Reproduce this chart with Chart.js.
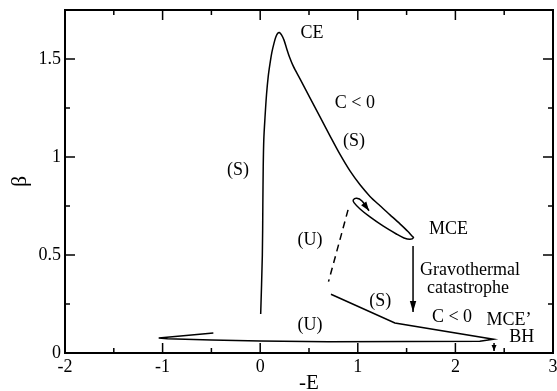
<!DOCTYPE html>
<html>
<head>
<meta charset="utf-8">
<script src="https://cdn.jsdelivr.net/npm/chart.js@4.4.1/dist/chart.umd.min.js"></script>
<style>
html, body { margin: 0; padding: 0; background: #fff; }
#wrap { width: 557px; height: 391px; }
</style>
</head>
<body>
<div id="wrap"><canvas id="c"></canvas></div>
<script>
// caloric curve beta(-E)
// upper branch: up to CE, down to MCE, then the spiral
const upperE = [0.005, 0.022, 0.027, 0.031, 0.037, 0.049, 0.065, 0.082, 0.100, 0.120, 0.141, 0.160, 0.178, 0.196,
                0.220, 0.245, 0.270, 0.300, 0.340, 0.408, 0.510, 0.613, 0.715, 0.818, 0.920, 1.023, 1.125, 1.228, 1.330, 1.432, 1.514, 1.555, 1.571,
                1.535, 1.473, 1.399, 1.258, 1.125, 1.023, 0.961, 0.954, 0.989, 1.040, 1.115];
const upperBeta = [0.199, 0.500, 0.750, 0.950, 1.090, 1.200, 1.320, 1.410, 1.475, 1.535, 1.580, 1.612, 1.630, 1.635,
                   1.622, 1.595, 1.555, 1.510, 1.462, 1.399, 1.302, 1.205, 1.108, 1.013, 0.929, 0.858, 0.799, 0.751, 0.705, 0.659, 0.620, 0.597, 0.589,
                   0.580, 0.587, 0.606, 0.648, 0.694, 0.735, 0.767, 0.781, 0.789, 0.777, 0.726];
const unstableE = [0.90, 0.70];
const unstableBeta = [0.73, 0.364];
// lower branch: (S) part, the long bottom line and the left tip
const lowerE = [0.725, 1.38, 2.39, 2.25, 0.70, 0.00, -0.50, -0.95, -1.04, -0.48];
const lowerBeta = [0.30, 0.153, 0.070, 0.060, 0.058, 0.061, 0.066, 0.073, 0.077, 0.102];
const gravArrowE = [1.566, 1.566];
const gravArrowBeta = [0.546, 0.209];
const bhArrowE = [2.396, 2.396];
const bhArrowBeta = [0.051, 0.010];

const xTicks = [-2, -1, 0, 1, 2, 3];
const xMinorTicks = [-1.5, -0.5, 0.5, 1.5, 2.5];
const yTicks = [0, 0.5, 1, 1.5];
const yMinorTicks = [0.25, 0.75, 1.25];

// text on the plot, placed in data coordinates
const notes = [
    { text: 'CE', e: 0.53, b: 1.63 },
    { text: 'C < 0', e: 0.97, b: 1.276 },
    { text: '(S)', e: 0.96, b: 1.08 },
    { text: '(S)', e: -0.227, b: 0.934 },
    { text: '(U)', e: 0.51, b: 0.577 },
    { text: 'MCE', e: 1.93, b: 0.633 },
    { text: 'Gravothermal', e: 2.15, b: 0.423 },
    { text: 'catastrophe', e: 2.13, b: 0.332 },
    { text: '(S)', e: 1.23, b: 0.265 },
    { text: 'C < 0', e: 1.965, b: 0.184 },
    { text: 'MCE\u2019', e: 2.55, b: 0.168 },
    { text: 'BH', e: 2.68, b: 0.082 },
    { text: '(U)', e: 0.51, b: 0.143 }
];

const SERIF = '"Liberation Serif", "Times New Roman", serif';

function pts(xs, ys) {
    return xs.map((v, i) => ({ x: v, y: ys[i] }));
}

function line(xs, ys, extra) {
    return Object.assign({
        data: pts(xs, ys),
        showLine: true,
        borderColor: '#000',
        borderWidth: 1.5,
        pointRadius: 0,
        fill: false,
        tension: 0
    }, extra || {});
}

function arrowHead(ctx, x0, y0, x1, y1, len, half) {
    const a = Math.atan2(y1 - y0, x1 - x0);
    ctx.beginPath();
    ctx.moveTo(x1, y1);
    ctx.lineTo(x1 - len * Math.cos(a) + half * Math.sin(a), y1 - len * Math.sin(a) - half * Math.cos(a));
    ctx.lineTo(x1 - len * Math.cos(a) - half * Math.sin(a), y1 - len * Math.sin(a) + half * Math.cos(a));
    ctx.closePath();
    ctx.fill();
}

// keep the plot box where it is in the picture
function noOverflow(s) {
    s.paddingLeft = 0;
    s.paddingRight = 0;
    s.paddingTop = 0;
    s.paddingBottom = 0;
}

const frameAndMarks = {
    id: 'frameAndMarks',
    afterDatasetsDraw(chart) {
        const { ctx, chartArea: a, scales: { x, y } } = chart;
        ctx.save();
        ctx.strokeStyle = '#000';
        ctx.fillStyle = '#000';

        // inward ticks on the four sides
        ctx.lineWidth = 1.5;
        ctx.beginPath();
        const xt = (vals, len) => vals.forEach(v => {
            const px = x.getPixelForValue(v);
            ctx.moveTo(px, a.bottom); ctx.lineTo(px, a.bottom - len);
            ctx.moveTo(px, a.top); ctx.lineTo(px, a.top + len);
        });
        const yt = (vals, len) => vals.forEach(v => {
            const py = y.getPixelForValue(v);
            ctx.moveTo(a.left, py); ctx.lineTo(a.left + len, py);
            ctx.moveTo(a.right, py); ctx.lineTo(a.right - len, py);
        });
        xt(xTicks, 10); xt(xMinorTicks, 5);
        yt(yTicks, 10); yt(yMinorTicks, 5);
        ctx.stroke();

        // frame
        ctx.lineWidth = 2;
        ctx.strokeRect(a.left, a.top, a.right - a.left, a.bottom - a.top);

        // arrow heads at the ends of the spiral and the two arrows
        const ends = [[0, 9, 3.2], [3, 11, 3.2], [4, 6, 2.5]];
        ends.forEach(([di, len, half]) => {
            const d = chart.data.datasets[di].data;
            const p0 = d[d.length - 2], p1 = d[d.length - 1];
            arrowHead(ctx, x.getPixelForValue(p0.x), y.getPixelForValue(p0.y),
                x.getPixelForValue(p1.x), y.getPixelForValue(p1.y), len, half);
        });

        // annotations
        ctx.font = '18px ' + SERIF;
        ctx.textAlign = 'center';
        ctx.textBaseline = 'middle';
        notes.forEach(n => ctx.fillText(n.text, x.getPixelForValue(n.e), y.getPixelForValue(n.b)));
        ctx.restore();
    }
};

new Chart(document.getElementById('c'), {
    type: 'scatter',
    data: {
        datasets: [
            line(upperE, upperBeta, { tension: 0.3 }),
            line(unstableE, unstableBeta, { borderDash: [7, 5] }),
            line(lowerE, lowerBeta),
            line(gravArrowE, gravArrowBeta),
            line(bhArrowE, bhArrowBeta)
        ]
    },
    options: {
        responsive: true,
        maintainAspectRatio: false,
        animation: false,
        layout: { padding: { top: 10, right: 4, left: 0, bottom: 0 } },
        plugins: { legend: { display: false }, tooltip: { enabled: false } },
        scales: {
            x: {
                type: 'linear',
                min: -2,
                max: 3,
                afterBuildTicks: s => { s.ticks = xTicks.map(v => ({ value: v })); },
                afterFit: s => { s.height = 38; noOverflow(s); },
                grid: { display: false, drawTicks: false },
                border: { display: false },
                ticks: {
                    color: '#000',
                    padding: 3,
                    maxRotation: 0,
                    autoSkip: false,
                    font: { family: SERIF, size: 18 },
                    callback: v => String(v)
                },
                title: {
                    display: true,
                    text: '-E',
                    color: '#000',
                    font: { family: SERIF, size: 21, lineHeight: 1 },
                    padding: { top: 0, bottom: -3 }
                }
            },
            y: {
                type: 'linear',
                min: 0,
                max: 1.75,
                afterBuildTicks: s => { s.ticks = yTicks.map(v => ({ value: v })); },
                afterFit: s => { s.width = 65; noOverflow(s); },
                grid: { display: false, drawTicks: false },
                border: { display: false },
                ticks: {
                    color: '#000',
                    padding: 4,
                    font: { family: SERIF, size: 18 },
                    callback: v => String(v)
                },
                title: {
                    display: true,
                    text: '\u03b2',
                    color: '#000',
                    font: { family: SERIF, size: 22, lineHeight: 1 },
                    padding: { top: 9, bottom: 0 }
                }
            }
        }
    },
    plugins: [frameAndMarks]
});
</script>
</body>
</html>
